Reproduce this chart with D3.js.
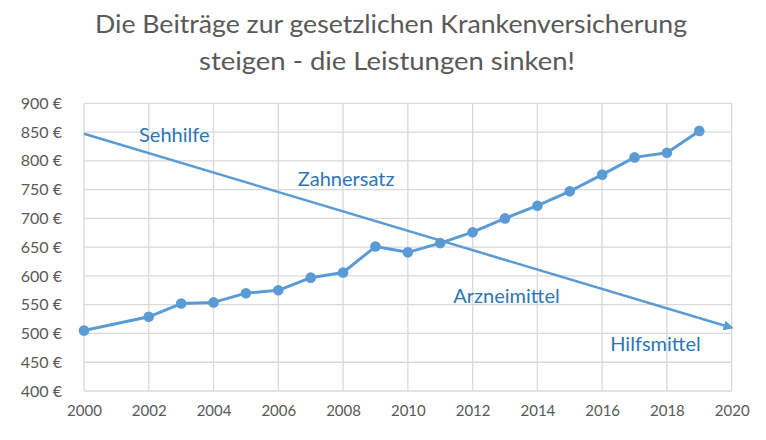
<!DOCTYPE html>
<html>
<head>
<meta charset="utf-8">
<script src="https://cdn.jsdelivr.net/npm/d3@7"></script>
<style>
  body { margin: 0; background: #fff; }
  text { font-family: Lato, "Open Sans", sans-serif; }
</style>
</head>
<body>
<svg class="chart"></svg>
<script>
// Beiträge pro Jahr
var years = [2000, 2002, 2003, 2004, 2005, 2006, 2007, 2008, 2009, 2010,
             2011, 2012, 2013, 2014, 2015, 2016, 2017, 2018, 2019];
var beitraege = [505, 529, 552, 554, 570, 575, 597, 606, 651, 641,
                 657, 676, 700, 722, 747, 776, 806, 814, 852];

// Pfeil "Leistungen sinken"
var trendYears = [2000, 2020];
var trendValues = [847, 510];

var labelNames = ["Sehhilfe", "Zahnersatz", "Arzneimittel", "Hilfsmittel"];
var labelYears = [2001.7, 2006.6, 2011.4, 2016.25];
var labelValues = [833, 756, 553, 470];

var titleLines = ["Die Beiträge zur gesetzlichen Krankenversicherung",
                  "steigen - die Leistungen sinken!"];
var titleWidths = [592, 376];

var xTicks = [2000, 2002, 2004, 2006, 2008, 2010, 2012, 2014, 2016, 2018, 2020];
var yTicks = [400, 450, 500, 550, 600, 650, 700, 750, 800, 850, 900];

var screen = { width: 766, height: 440 };
var margins = { top: 103.3, left: 84, right: 34.3, bottom: 49 };
var width = screen.width - margins.left - margins.right;
var height = screen.height - margins.top - margins.bottom;

var svg = d3.select(".chart")
            .attr("width", screen.width)
            .attr("height", screen.height);

var xScale = d3.scaleLinear().domain([2000, 2020]).range([0, width]);
var yScale = d3.scaleLinear().domain([400, 900]).range([height, 0]);

var blue = "#5b9bd5";
var gray = "#595959";

svg.append("defs").append("marker")
   .attr("id", "arrow")
   .attr("viewBox", "0 0 10 10")
   .attr("refX", 8).attr("refY", 5)
   .attr("markerWidth", 4).attr("markerHeight", 4)
   .attr("orient", "auto")
   .append("path")
   .attr("d", "M0,0 L10,5 L0,10 Z")
   .attr("fill", blue);

// title
svg.selectAll("text.title")
   .data(titleLines)
   .enter()
   .append("text")
   .attr("class", "title")
   .attr("x", function(d, i) { return i == 0 ? 391 : 387; })
   .attr("y", function(d, i) { return 33 + i * 37; })
   .attr("text-anchor", "middle")
   .attr("textLength", function(d, i) { return titleWidths[i]; })
   .attr("lengthAdjust", "spacingAndGlyphs")
   .style("font-size", "25px")
   .style("fill", gray)
   .text(function(d) { return d; });

var plotLand = svg.append("g")
                  .attr("transform", "translate(" + margins.left + "," + margins.top + ")");

// grid
plotLand.selectAll("line.vgrid")
        .data(xTicks)
        .enter()
        .append("line")
        .attr("x1", function(d) { return xScale(d); })
        .attr("x2", function(d) { return xScale(d); })
        .attr("y1", 0).attr("y2", height)
        .attr("stroke", "#d9d9d9").attr("stroke-width", 1.3);

plotLand.selectAll("line.hgrid")
        .data(yTicks)
        .enter()
        .append("line")
        .attr("x1", 0).attr("x2", width)
        .attr("y1", function(d) { return yScale(d); })
        .attr("y2", function(d) { return yScale(d); })
        .attr("stroke", "#d9d9d9").attr("stroke-width", 1.3);

// axes
var xAxis = d3.axisBottom(xScale).tickValues(xTicks).tickFormat(d3.format("d")).tickSize(0).tickPadding(14);
var yAxis = d3.axisLeft(yScale).tickValues(yTicks).tickFormat(function(d) { return d + " €"; }).tickSize(0).tickPadding(22);

plotLand.append("g").classed("xAxis", true)
        .attr("transform", "translate(0," + height + ")")
        .call(xAxis);
plotLand.append("g").classed("yAxis", true)
        .call(yAxis);

plotLand.selectAll(".domain").remove();
plotLand.selectAll(".xAxis text")
        .style("font-size", "15px")
        .style("fill", gray)
        .style("font-family", "Lato, sans-serif");
plotLand.selectAll(".yAxis text")
        .style("font-size", "16px")
        .style("fill", gray)
        .style("font-family", "Lato, sans-serif");

// trend arrow
var line = d3.line()
             .x(function(d) { return xScale(d[0]); })
             .y(function(d) { return yScale(d[1]); });

plotLand.append("path")
        .datum(d3.zip(trendYears, trendValues))
        .attr("d", line)
        .attr("fill", "none")
        .attr("stroke", blue)
        .attr("stroke-width", 2.5)
        .attr("marker-end", "url(#arrow)");

// Beiträge
plotLand.append("path")
        .datum(d3.zip(years, beitraege))
        .attr("d", line)
        .attr("fill", "none")
        .attr("stroke", blue)
        .attr("stroke-width", 3)
        .attr("stroke-linejoin", "round");

plotLand.selectAll("circle")
        .data(d3.zip(years, beitraege))
        .enter()
        .append("circle")
        .attr("cx", function(d) { return xScale(d[0]); })
        .attr("cy", function(d) { return yScale(d[1]); })
        .attr("r", 5.3)
        .style("fill", blue);

// labels
plotLand.selectAll("text.label")
        .data(labelNames)
        .enter()
        .append("text")
        .attr("class", "label")
        .attr("x", function(d, i) { return xScale(labelYears[i]); })
        .attr("y", function(d, i) { return yScale(labelValues[i]); })
        .style("font-size", "20px")
        .style("fill", "#2e75b6")
        .text(function(d) { return d; });
</script>
</body>
</html>
